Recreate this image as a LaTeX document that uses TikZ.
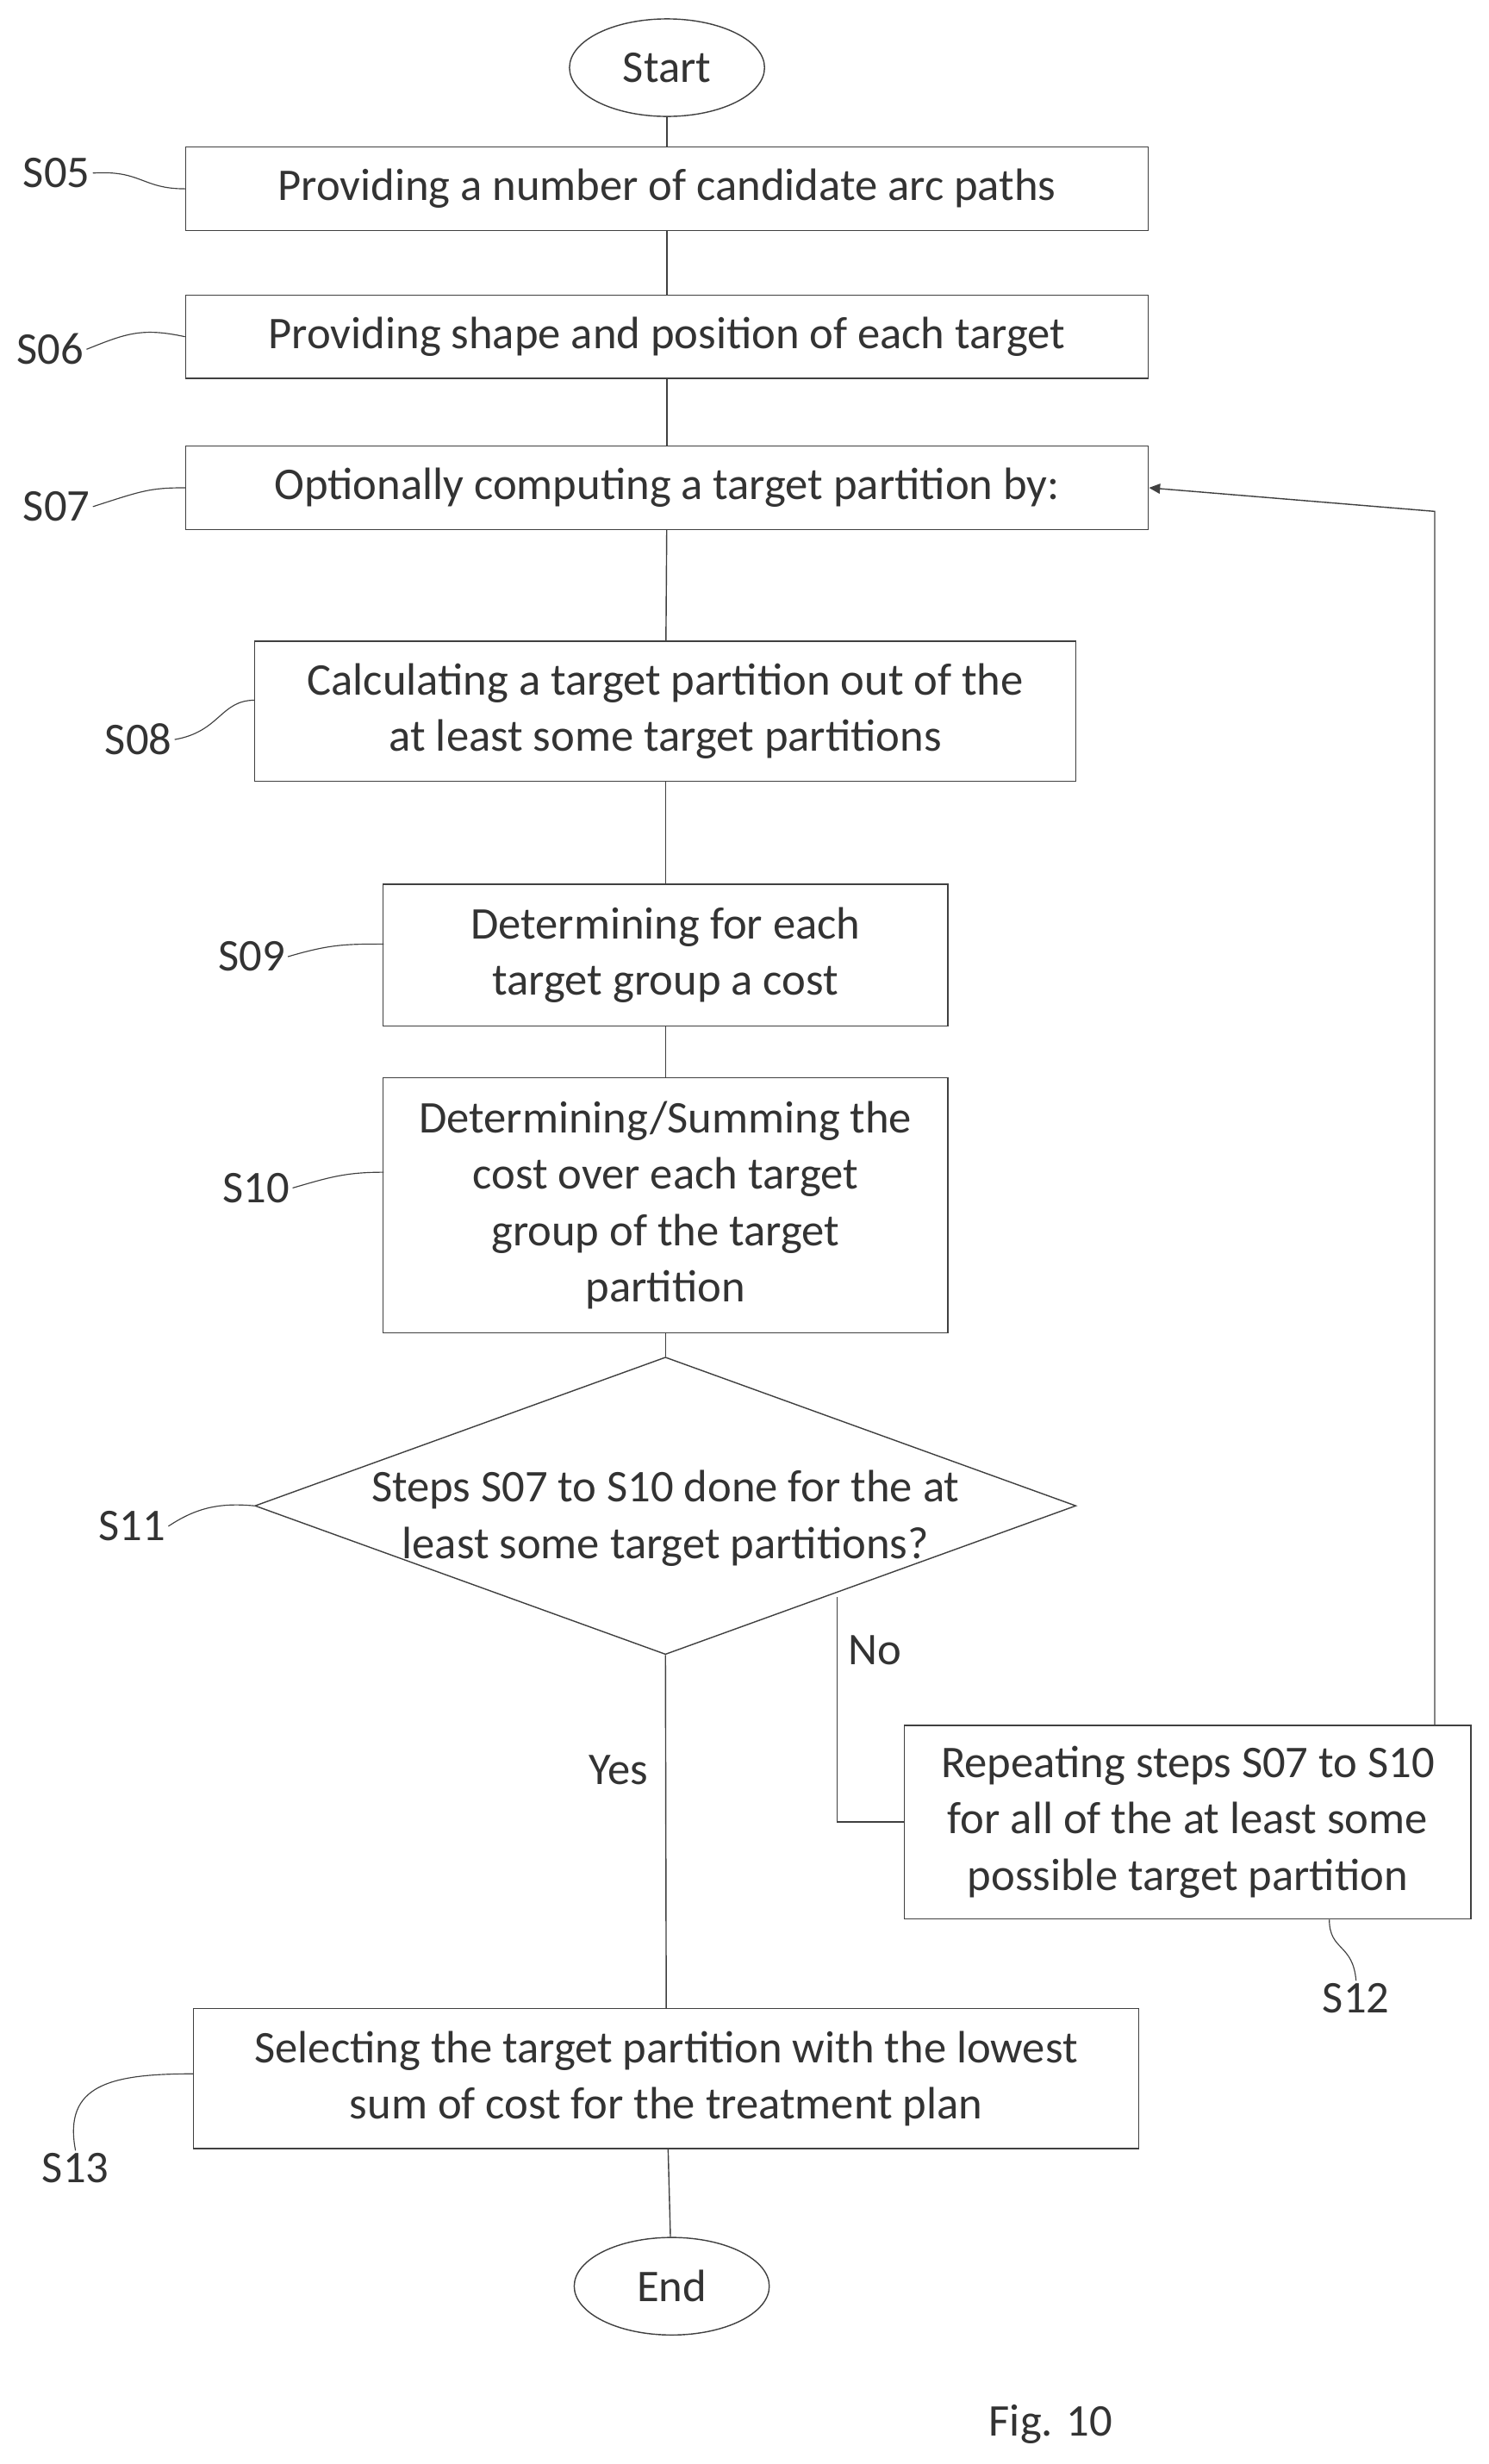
\documentclass[tikz,border=0pt]{standalone}
\usepackage{fontspec}
\setmainfont{Carlito}
\usetikzlibrary{shapes.geometric,arrows.meta}
\begin{document}
\begin{tikzpicture}[x=0.05cm,y=-0.05cm,line width=1.1pt,color={black!75},
  every node/.style={font=\fontsize{41}{51}\selectfont,text=black!80},
  box/.style={draw,rectangle,align=center,inner sep=0pt},
  term/.style={draw,ellipse,minimum width=6.2cm,minimum height=3.1cm,inner sep=0pt},
  lbl/.style={inner sep=2pt},
  lead/.style={line width=0.9pt}]
\useasboundingbox (0,0) rectangle (946,1566);
\node[term] (start) at (424,43) {Start};
\node[box,minimum width=30.6cm,minimum height=2.65cm] (s05) at (424,120) {Providing a number of candidate arc paths};
\node[box,minimum width=30.6cm,minimum height=2.65cm] (s06) at (424,214) {Providing shape and position of each target};
\node[box,minimum width=30.6cm,minimum height=2.65cm] (s07) at (424,310) {Optionally computing a target partition by:};
\node[box,minimum width=26.1cm,minimum height=4.45cm] (s08) at (423,452) {Calculating a target partition out of the\\at least some target partitions};
\node[box,minimum width=17.95cm,minimum height=4.5cm] (s09) at (423,607) {Determining for each\\target group a cost};
\node[box,minimum width=17.95cm,minimum height=8.1cm] (s10) at (423,766) {Determining/Summing the\\cost over each target\\group of the target\\partition};
\node[draw,diamond,aspect=2.76,minimum width=26.1cm,minimum height=9.45cm,inner sep=0pt] (s11) at (423,957) {};
\node[align=center] (s11t) at (423,965) {Steps S07 to S10 done for the at\\least some target partitions?};
\node[box,minimum width=18cm,minimum height=6.15cm] (s12) at (755,1158) {Repeating steps S07 to S10\\for all of the at least some\\possible target partition};
\node[box,minimum width=30.05cm,minimum height=4.45cm] (s13) at (423.5,1321) {Selecting the target partition with the lowest\\sum of cost for the treatment plan};
\node[term] (end) at (427,1453) {End};
\node (fig) at (668,1541) {Fig. 10};

\draw (start) -- (s05);
\draw (s05) -- (s06);
\draw (s06) -- (s07);
\draw (s07) -- (s08);
\draw (s08) -- (s09);
\draw (s09) -- (s10);
\draw (s10) -- (s11);
\draw (s11.south) -- (s13.north);
\node (yes) at (393,1125) {Yes};
\coordinate (nA) at (532,1015);
\draw (nA) -- (532,1158) -- (s12.west);
\node (no) at (556,1049) {No};
\coordinate (up) at (912,325);
\draw[-{Triangle[length=10pt,width=9pt]}] (s12.north -| up) -- (up) -- (s07.east);
\draw (s13) -- (end);

\node[lbl] (l05) at (36,110) {S05};
\node[lbl] (l06) at (32,222) {S06};
\node[lbl] (l07) at (36,322) {S07};
\node[lbl] (l08) at (88,470) {S08};
\node[lbl] (l09) at (160,608) {S09};
\node[lbl] (l10) at (163,755) {S10};
\node[lbl] (l11) at (84,970) {S11};
\node[lbl] (l12) at (862,1270) {S12};
\node[lbl] (l13) at (48,1378) {S13};
\draw[lead] (l05.east) .. controls (90,108) and (90,120) .. (s05.west);
\draw[lead] (l06.east) .. controls (80,212) and (90,208) .. (s06.west);
\draw[lead] (l07.east) .. controls (90,312) and (95,310) .. (s07.west);
\draw[lead] (l08.east) .. controls (140,465) and (140,445) .. (162,445);
\draw[lead] (l09.east) .. controls (210,600) and (220,600) .. (244,600);
\draw[lead] (l10.east) .. controls (210,748) and (220,745) .. (244,745);
\draw[lead] (l11.east) .. controls (125,958) and (140,955) .. (s11.west);
\draw[lead] (l12.north) .. controls (860,1235) and (845,1240) .. (845,1220);
\draw[lead] (l13.north) .. controls (40,1325) and (70,1318) .. (123,1318);
\end{tikzpicture}
\end{document}
